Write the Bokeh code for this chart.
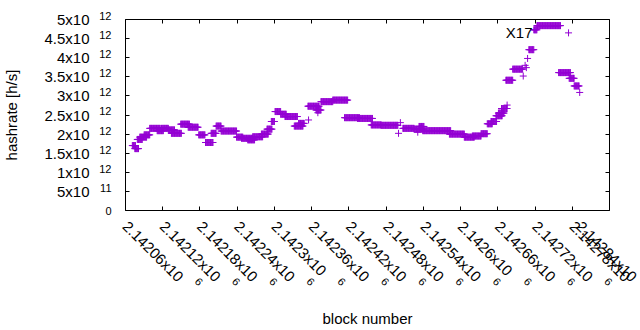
import numpy as np
from bokeh.plotting import figure
from bokeh.models import Range1d, FixedTicker, LinearAxis, Label, ColumnDataSource
from bokeh.embed import file_html
from bokeh.resources import INLINE

# ---------------- data ----------------
block_base = 2142060
# runs of consecutive blocks with the same hashrate estimate: start/end offsets from block_base, value in 1e12 h/s
run_start = [11, 15, 19, 23, 30, 39, 51, 58, 69, 74, 89, 101, 118, 129, 138, 146, 154, 179, 187, 197,
             205, 219, 228, 235, 241, 250, 257, 272, 279, 295, 294, 307, 310, 315, 334, 353, 374, 396, 412, 440,
             443, 447, 465, 471, 473, 479, 522, 546, 559, 573, 583, 589, 597, 601, 606, 615, 613, 624, 641, 644,
             646, 648, 650, 658, 663, 714, 698, 715, 723, 732]
run_end = [16, 21, 27, 34, 39, 56, 61, 69, 79, 90, 103, 117, 128, 141, 146, 154, 179, 189, 205, 208,
           221, 230, 236, 240, 250, 259, 277, 286, 288, 295, 312, 315, 310, 334, 358, 377, 398, 412, 439, 440,
           443, 465, 479, 471, 481, 524, 546, 562, 573, 583, 591, 598, 607, 610, 615, 615, 624, 640, 641, 644,
           646, 648, 658, 663, 701, 714, 717, 723, 731, 732]
run_value = [1.70, 1.62, 1.86, 1.92, 1.98, 2.15, 2.09, 2.15, 2.11, 2.02, 2.26, 2.18, 1.98, 1.78, 2.02, 2.21, 2.08, 1.92, 1.89, 1.85,
             1.93, 2.00, 2.13, 2.33, 2.59, 2.52, 2.46, 2.21, 2.28, 2.37, 2.73, 2.63, 2.56, 2.85, 2.89, 2.43, 2.41, 2.24, 2.23, 2.02,
             2.30, 2.15, 2.13, 2.05, 2.20, 2.09, 2.00, 1.92, 1.95, 2.01, 2.27, 2.33, 2.48, 2.55, 2.67, 2.76, 3.41, 3.70, 3.52, 3.80,
             3.74, 3.98, 4.21, 4.73, 4.84, 4.65, 3.61, 3.46, 3.26, 3.09]

x_tick_values = [2142060, 2142120, 2142180, 2142240, 2142300, 2142360, 2142420,
                 2142480, 2142540, 2142600, 2142660, 2142720, 2142780, 2142840]
x_tick_mant = ["2.14206", "2.14212", "2.14218", "2.14224", "2.1423", "2.14236", "2.14242",
               "2.14248", "2.14254", "2.1426", "2.14266", "2.14272", "2.14278", "2.14284"]
x_tick_exp = "6"

y_tick_values = [0, 0.5e12, 1e12, 1.5e12, 2e12, 2.5e12, 3e12, 3.5e12, 4e12, 4.5e12, 5e12]
y_tick_mant = ["0", "5x10", "1x10", "1.5x10", "2x10", "2.5x10", "3x10", "3.5x10", "4x10", "4.5x10", "5x10"]
y_tick_exp = ["", "11", "12", "12", "12", "12", "12", "12", "12", "12", "12"]

note_text = "X17"
note_x = 2142716
note_y = 4.66e12

x_label = "block number"
y_label = "hashrate [h/s]"

# ---------------- build points ----------------
xs, ys = [], []
for s, e, v in zip(run_start, run_end, run_value):
    for b in range(s, e + 1):
        xs.append(block_base + b)
        ys.append(v * 1e12)
src = ColumnDataSource(dict(x=xs, y=ys))

FONT = "Liberation Sans"
FS = 15
EFS = 11
COLOR = "#9400d3"
W, H = 640, 330
ML, MR, MT, MB = 124, 31, 19, 119

p = figure(width=W, height=H, output_backend="svg", toolbar_location=None,
           x_range=Range1d(x_tick_values[0], x_tick_values[-1]), y_range=Range1d(0, 5e12),
           min_border_left=ML, min_border_right=MR, min_border_top=MT, min_border_bottom=MB)
p.background_fill_color = "white"
p.border_fill_color = "white"
p.outline_line_color = "black"
p.outline_line_width = 1
p.xgrid.visible = False
p.ygrid.visible = False

def tick_axis(ax, ticks):
    ax.ticker = FixedTicker(ticks=ticks)
    ax.major_label_overrides = {t: "" for t in ticks}
    ax.major_label_text_font_size = "0px"
    ax.major_label_standoff = 0
    ax.major_tick_in = 4
    ax.major_tick_out = 0
    ax.major_tick_line_color = "black"
    ax.minor_tick_line_color = None
    ax.axis_line_color = None

def label_axis(ax, ticks, labels, fs, standoff, orientation="horizontal"):
    ax.ticker = FixedTicker(ticks=ticks)
    ax.major_label_overrides = dict(zip(ticks, labels))
    ax.major_label_text_font = FONT
    ax.major_label_text_font_size = f"{fs}px"
    ax.major_label_text_color = "black"
    ax.major_label_standoff = standoff
    ax.major_label_orientation = orientation
    ax.major_tick_line_color = None
    ax.minor_tick_line_color = None
    ax.axis_line_color = None
    ax.major_tick_in = 0
    ax.major_tick_out = 0

# tick-mark axes on all four sides
tick_axis(p.xaxis[0], x_tick_values)
tick_axis(p.yaxis[0], y_tick_values)
ax_top = LinearAxis()
tick_axis(ax_top, x_tick_values)
p.add_layout(ax_top, "above")
ax_right = LinearAxis()
tick_axis(ax_right, y_tick_values)
p.add_layout(ax_right, "right")

# ---- y tick labels: exponents (inner, raised by an empty second line) and mantissas (outer) ----
y_exp_text = [(e + "\n") if e else m for m, e in zip(y_tick_mant, y_tick_exp)]
ax_yexp = LinearAxis()
label_axis(ax_yexp, y_tick_values, y_exp_text, EFS, 14)
ax_yexp.major_label_text_line_height = 0.6
p.add_layout(ax_yexp, "left")

y_man_ticks = [v for v, e in zip(y_tick_values, y_tick_exp) if e]
y_man_text = [m for m, e in zip(y_tick_mant, y_tick_exp) if e]
ax_yman = LinearAxis()
label_axis(ax_yman, y_man_ticks, y_man_text, FS, 7)
ax_yman.axis_label = y_label
ax_yman.axis_label_text_font = FONT
ax_yman.axis_label_text_font_size = f"{FS}px"
ax_yman.axis_label_text_font_style = "normal"
ax_yman.axis_label_text_color = "black"
ax_yman.axis_label_standoff = 21
p.add_layout(ax_yman, "left")

# ---- x tick labels: mantissas rotated -45 deg, then exponents ----
ax_xman = LinearAxis()
label_axis(ax_xman, x_tick_values, [m + "x10" for m in x_tick_mant], FS, 13, orientation=-np.pi / 4)
p.add_layout(ax_xman, "below")

# exponent positions follow the end of each rotated mantissa (text width in em for Liberation Sans)
cw = {c: 0.556 for c in "0123456789"}
cw.update({".": 0.278, "x": 0.5})
px_per_block = (W - ML - MR) / (x_tick_values[-1] - x_tick_values[0])
x_exp_ticks = []
for v, m in zip(x_tick_values, x_tick_mant):
    wpx = sum(cw[c] for c in m + "x10") * FS
    x_exp_ticks.append(int(round(v + (wpx * np.sqrt(0.5) + 16.0) / px_per_block)))
ax_xexp = LinearAxis()
label_axis(ax_xexp, x_exp_ticks, [x_tick_exp] * len(x_exp_ticks), EFS, -14, orientation=-np.pi / 4)
ax_xexp.axis_label = x_label
ax_xexp.axis_label_text_font = FONT
ax_xexp.axis_label_text_font_size = f"{FS}px"
ax_xexp.axis_label_text_font_style = "normal"
ax_xexp.axis_label_text_color = "black"
ax_xexp.axis_label_standoff = 18
p.add_layout(ax_xexp, "below")

# ---- data ----
p.scatter("x", "y", source=src, marker="cross", size=7, line_color=COLOR, line_width=1)

# annotation inside the plot
p.add_layout(Label(x=note_x, y=note_y, text=note_text, text_align="right", text_baseline="middle",
                   text_font=FONT, text_font_size=f"{FS}px", text_color="black"))

open("out.html", "w").write(file_html(p, INLINE))
